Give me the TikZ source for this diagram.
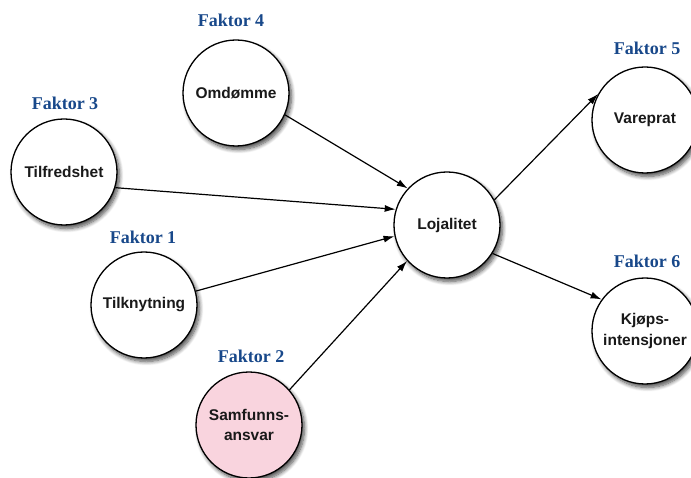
\documentclass[tikz,border=0pt]{standalone}
\usepackage{fontspec}
\setmainfont{Liberation Serif}
\newfontfamily\nodefont{Liberation Sans}
\usetikzlibrary{shadows.blur,arrows.meta}
\definecolor{faktorblue}{RGB}{24,72,138}
\definecolor{samfpink}{RGB}{249,212,222}
\definecolor{nodetext}{RGB}{25,25,25}
\tikzset{
  factor/.style={circle, draw=black, line width=1.3pt, fill=white,
    minimum size=106pt, inner sep=0pt, align=center, text=nodetext,
    font=\nodefont\bfseries\fontsize{15.5}{20.5}\selectfont,
    blur shadow={shadow xshift=2.5pt, shadow yshift=-3.5pt,
      shadow blur radius=4pt, shadow blur steps=8, shadow opacity=70}},
  flabel/.style={text=faktorblue, font=\bfseries\fontsize{18}{20}\selectfont},
  link/.style={line width=1.2pt, -{Latex[length=11pt,width=7pt]}}
}
\begin{document}
\begin{tikzpicture}[x=1pt,y=-1pt]
\useasboundingbox (0,0) rectangle (691,478);
% circles
\node[factor] (omd) at (236,93) {Omdømme};
\node[factor] (tilf) at (64,172) {Tilfredshet};
\node[factor] (tilk) at (144,305) {Tilknytning};
\node[factor, fill=samfpink] (samf) at (249,425) {Samfunns-\\ansvar};
\node[factor] (loj) at (447,225) {Lojalitet};
\node[factor] (vare) at (645,120) {Vareprat};
\node[factor] (kjop) at (645,331) {Kjøps-\\intensjoner};
% factor labels
\node[flabel] (f4) at (231,20) {Faktor 4};
\node[flabel] (f3) at (65,103) {Faktor 3};
\node[flabel] (f1) at (143,237) {Faktor 1};
\node[flabel] (f2) at (251,356) {Faktor 2};
\node[flabel] (f5) at (647,48) {Faktor 5};
\node[flabel] (f6) at (647,261) {Faktor 6};
% connectors
\draw[link] (omd.-24) -- (loj.137);
\draw[link] (tilf.-17) -- (loj.163);
\draw[link] (tilk.15) -- (loj.192);
\draw[link] (samf.41) -- (loj.222);
\draw[link] (loj.28) -- (vare.151);
\draw[link] (loj.-32) -- (kjop.144);
\end{tikzpicture}
\end{document}
